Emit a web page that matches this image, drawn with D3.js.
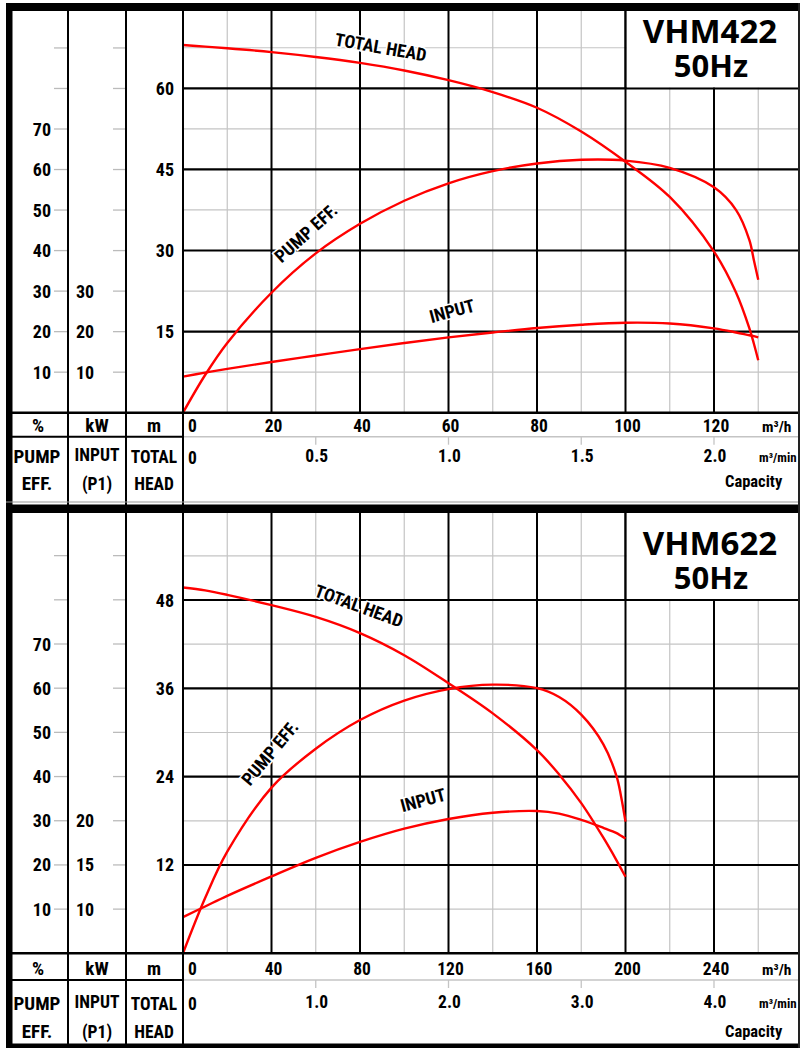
<!DOCTYPE html>
<html><head><meta charset="utf-8">
<script src="https://cdn.jsdelivr.net/npm/d3@7"></script>
<style>body{margin:0;background:#fff} svg{display:block}</style>
</head><body>
<svg id="c" width="800" height="1048"></svg>
<script>
// ---------- VHM422 data ----------
const vhm422Capacity = [0,5,10,20,30,40,50,60,70,80,90,100,110,120,125,128,129,130];
const vhm422Head     = [68.0,67.7,67.4,66.7,65.8,64.7,63.3,61.5,59.3,56.4,52.0,46.4,39.9,29.8,22.2,15.6,12.8,9.7];
const vhm422Eff      = [0,9.3,17.2,29.6,39.3,46.6,52.3,56.6,59.6,61.5,62.4,62.2,60.4,55.6,50.0,42.6,37.7,32.8];
const vhm422Input    = [8.9,9.9,10.8,12.5,14.1,15.7,17.2,18.6,19.8,20.9,21.7,22.2,22.0,20.8,19.8,19.1,18.9,18.6];
const vhm422FlowTicks = [0,20,40,60,80,100,120];
const vhm422FlowMinTicks = [0,0.5,1.0,1.5,2.0];
const vhm422HeadTicks = [15,30,45,60];
const vhm422EffTicks = [10,20,30,40,50,60,70];
const vhm422InputTicks = [10,20,30];

// ---------- VHM622 data ----------
const vhm622Capacity = [0,10,20,40,60,80,100,120,140,160,170,180,190,196,198,200];
const vhm622Head     = [49.7,49.3,48.7,47.3,45.7,43.5,40.5,36.7,32.6,27.6,24.3,20.4,15.7,12.6,11.5,10.4];
const vhm622Eff      = [0,12.5,23.0,37.5,46.3,52.8,57.2,59.8,60.8,60.0,58.0,54.0,47.3,40.0,35.5,29.8];
const vhm622Input    = [9.1,10.3,11.5,13.7,15.8,17.6,19.1,20.2,20.9,21.1,20.8,20.1,19.2,18.6,18.3,18.0];
const vhm622FlowTicks = [0,40,80,120,160,200,240];
const vhm622FlowMinTicks = [0,1.0,2.0,3.0,4.0];
const vhm622HeadTicks = [12,24,36,48];
const vhm622EffTicks = [10,20,30,40,50,60,70];
const vhm622InputTicks = [10,15,20];

const NARROW = '"Liberation Sans Narrow","Arial Narrow","Roboto Condensed","DejaVu Sans Condensed",sans-serif';
const svg = d3.select('#c');
svg.append('rect').attr('width',800).attr('height',1048).attr('fill','#fff');

function drawChart(cfg){
  const g = svg.append('g');
  const x = d3.scaleLinear().domain([0, cfg.flowTicks[cfg.flowTicks.length-1]]).range([183, 714]);
  const head = d3.scaleLinear().domain([0, cfg.headTicks[cfg.headTicks.length-1]]).range([cfg.axisY, cfg.headTopY]);
  const eff = d3.scaleLinear().domain([0, 70]).range([cfg.axisY, cfg.eff70Y]);
  const kw = d3.scaleLinear().domain(cfg.kwDomain).range([cfg.axisY, eff(cfg.kwEffEquiv)]);
  const fStep = cfg.flowTicks[1]-cfg.flowTicks[0];
  const hStep = cfg.headTicks[1]-cfg.headTicks[0];

  // minor grid
  const vMinor = d3.range(fStep/2, x.invert(810), fStep);
  g.selectAll(null).data(vMinor).enter().append('line')
    .attr('x1',d=>x(d)).attr('x2',d=>x(d)).attr('y1',cfg.plotTop).attr('y2',cfg.axisY)
    .attr('stroke','#c4c4c4').attr('stroke-width',1.2);
  const hMinor = d3.range(hStep/2, head.invert(cfg.plotTop), hStep);
  g.selectAll(null).data(hMinor).enter().append('line')
    .attr('x1',183).attr('x2',800).attr('y1',d=>head(d)).attr('y2',d=>head(d))
    .attr('stroke','#c4c4c4').attr('stroke-width',1.2);
  // major grid
  const vMajor = d3.range(fStep, x.invert(810), fStep);
  g.selectAll(null).data(vMajor).enter().append('line')
    .attr('x1',d=>x(d)).attr('x2',d=>x(d)).attr('y1',cfg.plotTop).attr('y2',cfg.axisY)
    .attr('stroke','#000').attr('stroke-width',2);
  g.selectAll(null).data(cfg.headTicks).enter().append('line')
    .attr('x1',183).attr('x2',800).attr('y1',d=>head(d)).attr('y2',d=>head(d))
    .attr('stroke','#000').attr('stroke-width',2.2);

  // title box
  const boxX = x(cfg.flowTicks[5]);
  const topHead = head(cfg.headTicks[cfg.headTicks.length-1]);
  g.append('rect').attr('x',boxX+1).attr('y',cfg.plotTop).attr('width',800-boxX).attr('height',topHead-cfg.plotTop-1).attr('fill','#fff');
  g.append('line').attr('x1',boxX).attr('x2',boxX).attr('y1',cfg.plotTop).attr('y2',topHead).attr('stroke','#000').attr('stroke-width',2);
  const tt = g.append('text').attr('text-anchor','middle')
    .attr('font-family','"Open Sans",sans-serif').attr('font-weight',700);
  tt.append('tspan').attr('x',710).attr('y',cfg.titleY).attr('font-size',33).text(cfg.title);
  tt.append('tspan').attr('x',711).attr('y',cfg.titleY+34).attr('font-size',31).text('50Hz');

  // curves
  const mk = (ys, sc) => d3.line().curve(d3.curveCatmullRom.alpha(0.5)).x((d,i)=>x(cfg.cap[i])).y(d=>sc(d))(ys);
  [[cfg.head, head],[cfg.eff, eff],[cfg.input, kw]].forEach(([ys,sc])=>{
    g.append('path').attr('d', mk(ys, sc)).attr('fill','none').attr('stroke','#ff0000').attr('stroke-width',2.4);
  });

  // curve labels
  cfg.labels.forEach(l=>{
    g.append('text').attr('transform',`translate(${x(l.q)},${head(l.h)}) rotate(${l.r})`)
      .attr('text-anchor','middle').attr('dy','0.35em')
      .attr('font-family',NARROW).attr('font-weight',700).attr('font-size',18)
      .attr('stroke','#fff').attr('stroke-width',3).attr('paint-order','stroke')
      .attr('fill','#000').text(l.t);
  });

  // left columns ticks
  const pctTicks = d3.range(10, 100, 10).filter(v=>eff(v) > cfg.plotTop+2);
  g.selectAll(null).data(pctTicks).enter().append('line')
    .attr('x1',54).attr('x2',68).attr('y1',d=>eff(d)).attr('y2',d=>eff(d)).attr('stroke','#bbb').attr('stroke-width',1.3);
  g.selectAll(null).data(pctTicks).enter().append('line')
    .attr('x1',113).attr('x2',126).attr('y1',d=>eff(d)).attr('y2',d=>eff(d)).attr('stroke','#bbb').attr('stroke-width',1.3);
  const numStyle = s => s.attr('font-family',NARROW).attr('font-weight',700).attr('font-size',18).attr('fill','#000');
  g.selectAll(null).data(cfg.effTicks).enter().append('text')
    .attr('x',51).attr('y',d=>eff(d)+6.5).attr('text-anchor','end').text(d=>d).call(numStyle);
  g.selectAll(null).data(cfg.inputTicks).enter().append('text')
    .attr('x',76).attr('y',d=>kw(d)+6.5).attr('text-anchor','start').text(d=>d).call(numStyle);
  g.selectAll(null).data(cfg.headTicks).enter().append('text')
    .attr('x',174).attr('y',d=>head(d)+6.5).attr('text-anchor','end').text(d=>d).call(numStyle);

  // bottom table
  const rowY = cfg.rowY;
  g.append('line').attr('x1',183).attr('x2',800).attr('y1',rowY).attr('y2',rowY).attr('stroke','#c4c4c4').attr('stroke-width',1.5);
  g.append('line').attr('x1',6).attr('x2',183).attr('y1',rowY).attr('y2',rowY).attr('stroke','#000').attr('stroke-width',2);
  g.append('line').attr('x1',6).attr('x2',800).attr('y1',cfg.axisY).attr('y2',cfg.axisY).attr('stroke','#000').attr('stroke-width',2.6);
  // flow labels row 1
  g.selectAll(null).data(cfg.flowTicks).enter().append('text')
    .attr('x',d=>d===0?188:x(d)+2).attr('y',cfg.axisY+cfg.r1Off).attr('text-anchor',d=>d===0?'start':'middle')
    .text(d=>d).call(numStyle).attr('font-size',17.5);
  g.append('text').attr('x',762).attr('y',cfg.axisY+cfg.r1Off).text('m³/h').call(numStyle).attr('font-size',15.5);
  // flow labels row 2 (m3/min)
  const fmt = d => d===0 ? '0' : d3.format('.1f')(d);
  const minX = d => x(d*60);
  g.selectAll(null).data(cfg.flowMinTicks.filter(d=>d>0)).enter().append('line')
    .attr('x1',minX).attr('x2',minX).attr('y1',rowY).attr('y2',rowY+8).attr('stroke','#c4c4c4').attr('stroke-width',1.3);
  g.selectAll(null).data(cfg.flowMinTicks).enter().append('text')
    .attr('x',d=>d===0?188:minX(d)+1).attr('y',d=>rowY+cfg.r2Off+(d===0?2:0)).attr('text-anchor',d=>d===0?'start':'middle')
    .text(fmt).call(numStyle).attr('font-size',17.5);
  g.append('text').attr('x',759).attr('y',rowY+cfg.r2Off).text('m³/min').call(numStyle).attr('font-size',13);
  g.append('text').attr('x',725).attr('y',rowY+cfg.r3Off).text('Capacity').call(numStyle).attr('font-size',16.5);
  // headers
  const hdr = [['%',38],['kW',97],['m',154]];
  hdr.forEach(([t,cx])=>g.append('text').attr('x',cx).attr('y',cfg.axisY+cfg.r1Off).attr('text-anchor','middle').text(t).call(numStyle).attr('font-size',19));
  const hdr2 = [['PUMP','EFF.',37],['INPUT','(P1)',97],['TOTAL','HEAD',154]];
  hdr2.forEach(([a,b,cx],i)=>{
    g.append('text').attr('x',cx).attr('y',rowY+cfg.h1Off-(i===1?2:0)).attr('text-anchor','middle').text(a).call(numStyle).attr('font-size',i===0?19:17.5);
    g.append('text').attr('x',cx).attr('y',rowY+cfg.h2Off).attr('text-anchor','middle').text(b).call(numStyle).attr('font-size',i===0?19:17.5);
  });
}

drawChart({
  title:'VHM422', titleY:43, plotTop:11, axisY:412.7, rowY:436.7, headTopY:88.3, eff70Y:129,
  kwDomain:[0,30], kwEffEquiv:30,
  r1Off:19, r2Off:25, r3Off:50, h1Off:26.5, h2Off:53.5,
  cap:vhm422Capacity, head:vhm422Head, eff:vhm422Eff, input:vhm422Input,
  flowTicks:vhm422FlowTicks, flowMinTicks:vhm422FlowMinTicks, headTicks:vhm422HeadTicks,
  effTicks:vhm422EffTicks, inputTicks:vhm422InputTicks,
  labels:[{t:'TOTAL HEAD',q:44.7,h:67.6,r:10},{t:'PUMP EFF.',q:27.8,h:33.2,r:-42},{t:'INPUT',q:60.8,h:18.8,r:-15}]
});
drawChart({
  title:'VHM622', titleY:555, plotTop:513, axisY:953.3, rowY:980, headTopY:600, eff70Y:644,
  kwDomain:[5,20], kwEffEquiv:30,
  r1Off:21.7, r2Off:28, r3Off:56.7, h1Off:30, h2Off:58,
  cap:vhm622Capacity, head:vhm622Head, eff:vhm622Eff, input:vhm622Input,
  flowTicks:vhm622FlowTicks, flowMinTicks:vhm622FlowMinTicks, headTicks:vhm622HeadTicks,
  effTicks:vhm622EffTicks, inputTicks:vhm622InputTicks,
  labels:[{t:'TOTAL HEAD',q:79.5,h:47.2,r:20},{t:'PUMP EFF.',q:39.3,h:27.2,r:-50},{t:'INPUT',q:108.5,h:20.8,r:-15}]
});

// frame
const fr = svg.append('g');
[68,126,183].forEach(cx=>fr.append('line').attr('x1',cx).attr('x2',cx).attr('y1',3).attr('y2',1048).attr('stroke','#000').attr('stroke-width',2));
fr.append('rect').attr('x',6).attr('y',3).attr('width',794).attr('height',8).attr('fill','#000');
fr.append('rect').attr('x',6).attr('y',3).attr('width',6.5).attr('height',1045).attr('fill','#000');
fr.append('line').attr('x1',6).attr('x2',800).attr('y1',502).attr('y2',502).attr('stroke','#999').attr('stroke-width',1);
fr.append('rect').attr('x',6).attr('y',504.5).attr('width',794).attr('height',8.5).attr('fill','#000');
fr.append('rect').attr('x',6).attr('y',1043.5).attr('width',794).attr('height',4.5).attr('fill','#000');
fr.append('rect').attr('x',798).attr('y',3).attr('width',2).attr('height',1045).attr('fill','#222');
</script>
</body></html>
